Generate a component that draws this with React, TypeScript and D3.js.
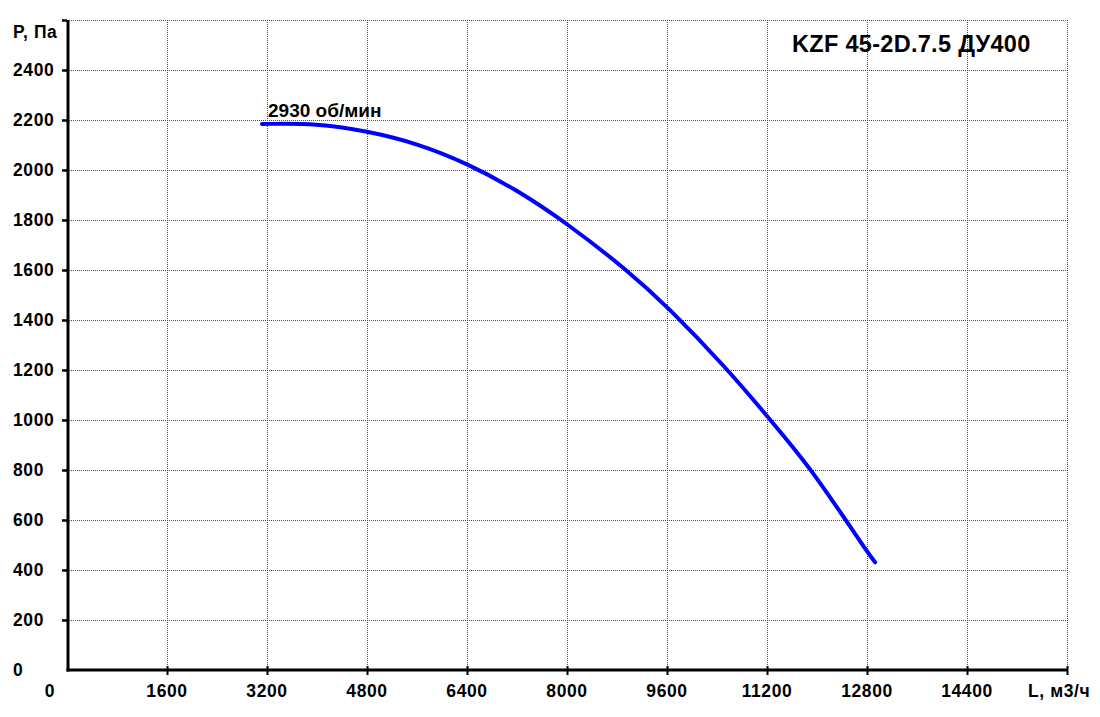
import React from "react";
import * as d3 from "d3";

// Fan curve
const FLOW = [3120, 4000, 4800, 5600, 6400, 7200, 8000, 8960, 9600, 10580, 11200, 11520, 11910, 12460, 12800, 12930];
const PRESSURE = [2184, 2187, 2156, 2107, 2027, 1920, 1787, 1600, 1456, 1200, 1016, 920, 800, 600, 473, 431];

const X_TICKS = [0, 1600, 3200, 4800, 6400, 8000, 9600, 11200, 12800, 14400];
const Y_TICKS = [0, 200, 400, 600, 800, 1000, 1200, 1400, 1600, 1800, 2000, 2200, 2400];
const X_MAX = 16000;
const Y_MAX = 2600;

const TITLE = "KZF 45-2D.7.5 ДУ400";
const CURVE_LABEL = "2930 об/мин";
const X_LABEL = "L, м3/ч";
const Y_LABEL = "P, Па";

const W = 1100;
const H = 717;
const FONT = "'Liberation Sans', Arial, sans-serif";
const GRID = "#008000";
const LINE = "#0000ff";
const TICK_FS = 17.5;

const App: React.FC = () => {
  const x = d3.scaleLinear().domain([0, X_MAX]).range([67, 1067]);
  const y = d3.scaleLinear().domain([0, Y_MAX]).range([670, 20]);

  const pts = FLOW.map((f, i) => [f, PRESSURE[i]] as [number, number]);
  const path =
    d3
      .line<[number, number]>()
      .x((d) => x(d[0]))
      .y((d) => y(d[1]))
      .curve(d3.curveBasis)(pts) ?? "";

  const gridX = [...X_TICKS.filter((t) => t > 0), X_MAX];
  const gridY = [...Y_TICKS.filter((t) => t > 0), Y_MAX];

  return (
    <div style={{ position: "absolute", left: 0, top: 0 }}>
      <svg width={W} height={H} style={{ display: "block", background: "#fff" }}>
        <rect width={W} height={H} fill="#fff" />

        {/* grid */}
        {gridX.map((t) => (
          <line
            key={`gx${t}`}
            x1={x(t) + 0.5} x2={x(t) + 0.5} y1={y(Y_MAX)} y2={y(0)}
            stroke={GRID} strokeWidth={1} strokeDasharray="1 1" shapeRendering="crispEdges"
          />
        ))}
        {gridY.map((t) => (
          <line
            key={`gy${t}`}
            x1={x(0)} x2={x(X_MAX)} y1={y(t) + 0.5} y2={y(t) + 0.5}
            stroke={GRID} strokeWidth={1} strokeDasharray="1 1" shapeRendering="crispEdges"
          />
        ))}

        {/* axes */}
        <line x1={x(0) + 1} x2={x(0) + 1} y1={y(Y_MAX)} y2={y(0) + 1.5} stroke="#000" strokeWidth={3} />
        <line x1={x(0) - 0.5} x2={x(X_MAX) + 1} y1={y(0)} y2={y(0)} stroke="#000" strokeWidth={3} />
        {[...Y_TICKS.filter((t) => t > 0), Y_MAX].map((t) => (
          <line key={`ty${t}`} x1={x(0) - 5} x2={x(0)} y1={y(t) + 0.5} y2={y(t) + 0.5} stroke="#000" strokeWidth={2.5} />
        ))}
        {gridX.map((t) => (
          <line key={`tx${t}`} x1={x(t) + 0.5} x2={x(t) + 0.5} y1={y(0) - 4} y2={y(0) + 5} stroke="#000" strokeWidth={2} />
        ))}

        {/* tick labels */}
        {Y_TICKS.map((t) => (
          <text key={`ly${t}`} x={13} y={y(t) + 6} fontFamily={FONT} fontWeight="bold" fontSize={TICK_FS} letterSpacing={0.6} fill="#000">
            {t}
          </text>
        ))}
        <text x={13} y={38} fontFamily={FONT} fontWeight="bold" fontSize={TICK_FS} letterSpacing={0.6} fill="#000">
          {Y_LABEL}
        </text>
        {X_TICKS.map((t) => (
          <text
            key={`lx${t}`}
            x={t === 0 ? 50 : x(t)} y={697}
            textAnchor="middle" fontFamily={FONT} fontWeight="bold" fontSize={TICK_FS} letterSpacing={0.6} fill="#000"
          >
            {t}
          </text>
        ))}
        <text x={1028} y={697} fontFamily={FONT} fontWeight="bold" fontSize={TICK_FS} letterSpacing={0.6} fill="#000">
          {X_LABEL}
        </text>

        {/* curve */}
        <path d={path} fill="none" stroke={LINE} strokeWidth={4} strokeLinecap="round" strokeLinejoin="round" />
        <text x={x(FLOW[0]) + 6} y={117} fontFamily={FONT} fontWeight="bold" fontSize={19} fill="#000">
          {CURVE_LABEL}
        </text>

        {/* title */}
        <text x={792} y={52} fontFamily={FONT} fontWeight="bold" fontSize={23.5} letterSpacing={0.3} fill="#000">
          {TITLE}
        </text>
      </svg>
    </div>
  );
};

export default App;
